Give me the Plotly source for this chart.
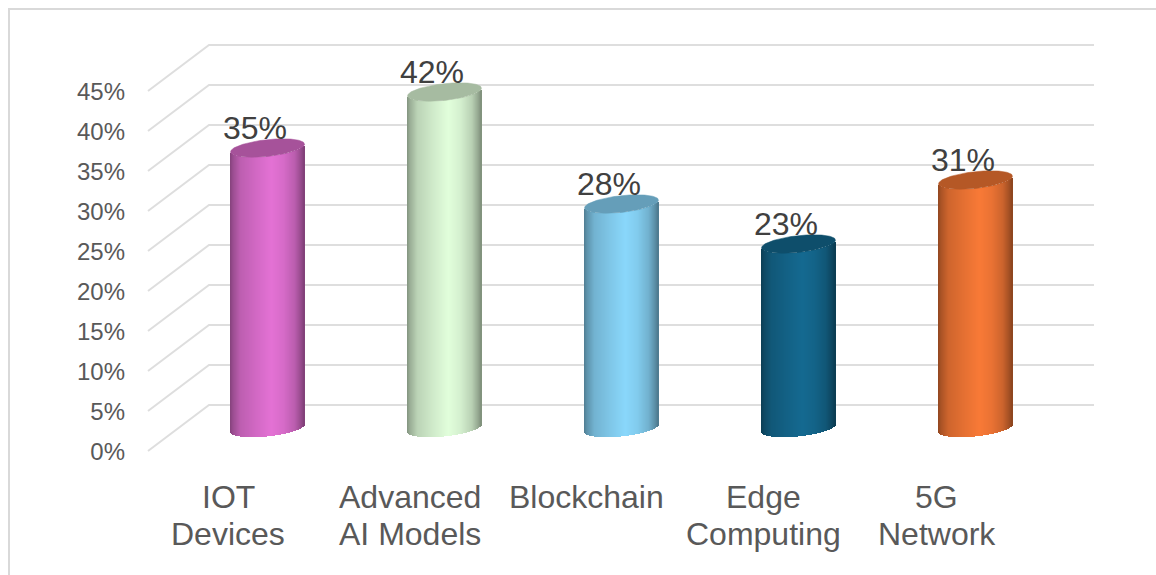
import numpy as np
import plotly.graph_objects as go

# Chart data
categories = ["IOT Devices", "Advanced AI Models", "Blockchain", "Edge Computing", "5G Network"]
category_lines = [["IOT", "Devices"], ["Advanced", "AI Models"], ["Blockchain"], ["Edge", "Computing"], ["5G", "Network"]]
adoption_pct = [35, 42, 28, 23, 31]
axis_ticks = [0, 5, 10, 15, 20, 25, 30, 35, 40, 45]

# Cylinder colours: lit body tone and darker cap tone
body_colors = ["#E472D5", "#E2FFDC", "#8AD8FC", "#156A91", "#F97A37"]
cap_colors = ["#A6529A", "#A6BBA1", "#659EB9", "#0E4E6B", "#B55826"]

W, H = 1156, 575
PX_PER_PCT = 8.0
FRONT_ZERO, BAR_ZERO = 451.0, 428.0
DEPTH_PCT = 46 / PX_PER_PCT
PLOT_LEFT = 126.0
BAR_FIRST, BAR_STEP, BAR_WIDTH = 267.5, 177.0, 74


def x_of(px):
    return (px - BAR_FIRST) / BAR_STEP


x_range = [x_of(PLOT_LEFT), x_of(W)]
front_range = [(FRONT_ZERO - H) / PX_PER_PCT, FRONT_ZERO / PX_PER_PCT]
bar_range = [(BAR_ZERO - H) / PX_PER_PCT, BAR_ZERO / PX_PER_PCT]

# Unit position across a cylinder, one slice per pixel column
t = (np.arange(BAR_WIDTH) + 0.5) / BAR_WIDTH * 2 - 1
half_w = BAR_WIDTH / 2 / BAR_STEP
slice_x = t * half_w
rim_tilt = 0.48
rim_bulge = 1.05
lower_rim = rim_tilt * t - rim_bulge * np.sqrt(1 - t**2)

# Side shading of the cylinder wall
shade = np.interp(t, [-1, -0.92, -0.72, -0.3, 0.12, 0.45, 0.75, 0.92, 1],
                  [0.58, 0.68, 0.83, 0.92, 1.0, 0.94, 0.82, 0.66, 0.56])


def shaded(hex_color):
    rgb = np.array([int(hex_color[i:i + 2], 16) for i in (1, 3, 5)])
    return [f"rgb({r},{g},{b})" for r, g, b in (np.outer(shade, rgb)).astype(int)]


fig = go.Figure()

# Perspective grid: front edge, diagonal, back wall for each tick
grid_x, grid_y = [], []
for v in axis_ticks:
    grid_x += [x_of(148), x_of(209), x_of(1094), None]
    grid_y += [v, v + DEPTH_PCT, v + DEPTH_PCT, None]
fig.add_trace(go.Scatter(x=grid_x, y=grid_y, mode="lines", yaxis="y",
                         line=dict(color="#DEDEDE", width=2),
                         hoverinfo="skip", showlegend=False))

# Cylinders
for i, (name, value) in enumerate(zip(categories, adoption_pct)):
    fig.add_trace(go.Bar(x=i + slice_x, y=[value] * BAR_WIDTH, base=lower_rim, yaxis="y2",
                         width=1 / BAR_STEP, name=name, showlegend=False,
                         marker=dict(color=shaded(body_colors[i]), line=dict(width=0))))
    theta = np.linspace(0, 2 * np.pi, 121)
    fig.add_trace(go.Scatter(x=i + half_w * np.cos(theta),
                             y=value + rim_tilt * np.cos(theta) + rim_bulge * np.sin(theta),
                             yaxis="y2", mode="lines", fill="toself", fillcolor=cap_colors[i],
                             line=dict(color=cap_colors[i], width=0.5),
                             hoverinfo="skip", showlegend=False))

annotations = []
for i, value in enumerate(adoption_pct):
    annotations.append(dict(x=i, y=value, xref="x", yref="y2", text=f"{value}%", showarrow=False,
                            xshift=-12.5, yshift=20, font=dict(size=32, color="#404040")))

label_shift = [-39.5, -34.5, -35, -35, -39]
for i, lines in enumerate(category_lines):
    for row, line in enumerate(lines):
        annotations.append(dict(x=i, y=0, xref="x", yref="paper", yanchor="middle", text=line,
                                showarrow=False, xshift=label_shift[i],
                                yshift=(H - 497 - 37 * row), font=dict(size=32, color="#595959")))

fig.update_layout(
    width=W, height=H, margin=dict(l=0, r=0, t=0, b=0),
    paper_bgcolor="white", plot_bgcolor="white",
    font=dict(family="Liberation Sans, Arial, sans-serif"),
    barmode="overlay", bargap=0, showlegend=False,
    xaxis=dict(domain=[PLOT_LEFT / W, 1], range=x_range, visible=False, fixedrange=True),
    yaxis=dict(range=front_range, tickvals=axis_ticks, ticktext=[f"{v}%" for v in axis_ticks],
               showgrid=False, zeroline=False, showline=False, ticks="", fixedrange=True,
               ticklabelshift=1, tickfont=dict(size=24, color="#595959")),
    yaxis2=dict(range=bar_range, overlaying="y", visible=False, fixedrange=True),
    annotations=annotations,
    # Frame along the top and left of the page
    shapes=[dict(type="path", xref="paper", yref="paper",
                 path=f"M {9 / W} 0 L {9 / W} {1 - 9 / H} L 1 {1 - 9 / H}",
                 line=dict(color="#D9D9D9", width=2))],
)

fig.write_html("out.html")
